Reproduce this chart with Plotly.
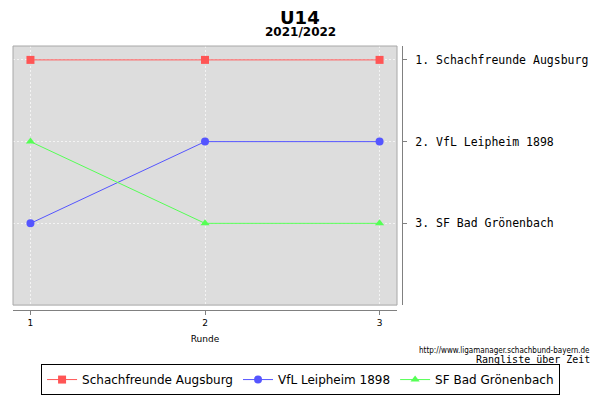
import plotly.graph_objects as go

# Rangliste je Runde
runden = [1, 2, 3]
teams = ["Schachfreunde Augsburg", "VfL Leipheim 1898", "SF Bad Grönenbach"]
platz = {
    "Schachfreunde Augsburg": [1, 1, 1],
    "VfL Leipheim 1898": [3, 2, 2],
    "SF Bad Grönenbach": [2, 3, 3],
}
end_platz = [1, 2, 3]
end_text = ["1. Schachfreunde Augsburg", "2. VfL Leipheim 1898", "3. SF Bad Grönenbach"]

farben = ["#FF5555", "#5555FF", "#55FF55"]
symbole = ["square", "circle", "triangle-up"]

fig = go.Figure()

for team, farbe, sym in zip(teams, farben, symbole):
    fig.add_trace(go.Scatter(
        x=runden,
        y=platz[team],
        mode="lines+markers",
        name=team,
        line=dict(color=farbe, width=1),
        marker=dict(symbol=sym, size=8, color=farbe),
    ))

# Rahmen um die Zeichenfläche
fig.add_shape(type="rect", xref="x domain", yref="y domain", x0=0, x1=1, y0=0, y1=1,
              line=dict(color="#A8A8A8", width=1), layer="above")

fig.add_annotation(text="<b>U14</b>", x=0.723, y=1.107, xref="paper", yref="paper",
                   xanchor="center", yanchor="middle", showarrow=False,
                   font=dict(family="DejaVu Sans", size=18, color="black"))
fig.add_annotation(text="<b>2021/2022</b>", x=0.723, y=1.052, xref="paper", yref="paper",
                   xanchor="center", yanchor="middle", showarrow=False,
                   font=dict(family="DejaVu Sans", size=12, color="black"))
fig.add_annotation(text="http://www.ligamanager.schachbund-bayern.de", x=1.458, y=-0.143,
                   xref="paper", yref="paper", xanchor="right", yanchor="middle", showarrow=False,
                   font=dict(family="DejaVu Sans Condensed", size=8, color="black"))
fig.add_annotation(text="Rangliste über Zeit", x=1.458, y=-0.18,
                   xref="paper", yref="paper", xanchor="right", yanchor="middle", showarrow=False,
                   font=dict(family="DejaVu Sans Mono", size=10, color="black"))

# Seite hat 8px Rand -> Figur etwas kleiner
fig.update_layout(
    width=592,
    height=392,
    margin=dict(l=5, r=190, t=38, b=85),
    paper_bgcolor="white",
    plot_bgcolor="#DDDDDD",
    font=dict(family="DejaVu Sans", color="black"),
    showlegend=True,
    legend=dict(
        orientation="h",
        x=1.378, y=-0.3123, xanchor="right", yanchor="bottom",
        bordercolor="black", borderwidth=1, bgcolor="white",
        font=dict(family="DejaVu Sans", size=12),
        itemwidth=30,
        tracegroupgap=0,
    ),
    xaxis=dict(
        domain=[0, 0.9673],
        range=[0.9, 3.1],
        tickvals=runden,
        showgrid=True, gridcolor="#F4F4F4", griddash="2px,2px", gridwidth=1,
        zeroline=False,
        showline=True, linecolor="#808080",
        anchor="free", position=0.0074,
        ticks="outside", ticklen=4, tickcolor="#808080",
        tickfont=dict(size=9),
        title=dict(text="Runde", font=dict(size=9), standoff=8),
        automargin=False,
    ),
    yaxis=dict(
        domain=[0.026, 1],
        range=[4.0, 0.83],
        tickvals=end_platz,
        ticktext=end_text,
        side="right",
        anchor="free", position=0.9798,
        showgrid=True, gridcolor="#F4F4F4", griddash="2px,2px", gridwidth=1,
        zeroline=False,
        showline=True, linecolor="#808080",
        ticks="outside", ticklen=4, tickcolor="#808080",
        ticklabelstandoff=6,
        tickfont=dict(family="DejaVu Sans Mono", size=11.5),
        automargin=False,
    ),
)

fig.write_html("out.html")
